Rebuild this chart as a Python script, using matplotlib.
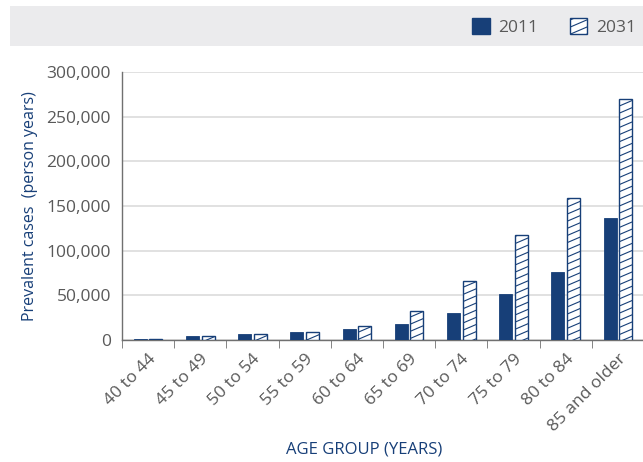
import matplotlib
matplotlib.use("Agg")
import matplotlib.pyplot as plt
import matplotlib.hatch as mhatch
from matplotlib.path import Path
from matplotlib.patches import Rectangle, Patch
from matplotlib.ticker import FuncFormatter, MultipleLocator
import numpy as np

categories = ["40 to 44", "45 to 49", "50 to 54", "55 to 59", "60 to 64",
              "65 to 69", "70 to 74", "75 to 79", "80 to 84", "85 and older"]
values_2011 = [1000, 4000, 6500, 8500, 12500, 18000, 30000, 51500, 76000, 136500]
values_2031 = [1500, 4000, 6500, 9500, 15500, 32000, 66000, 117000, 159000, 270000]

NAVY = "#173f78"
GREY_TXT = "#595959"


class ShallowNorthEast(mhatch.HatchPatternBase):
    """Shallow diagonal hatch (lines rising to the right, gentle slope)."""
    def __init__(self, hatch, density):
        self.n = 14
        self.m = 6
        self.num_lines = (self.n + self.m + 1) if '/' in hatch else 0
        self.num_vertices = self.num_lines * 2

    def set_vertices_and_codes(self, vertices, codes):
        ks = np.arange(-self.m, self.n + 1)
        vertices[0::2, 0] = 0.0
        vertices[0::2, 1] = ks / self.n
        vertices[1::2, 0] = 1.0
        vertices[1::2, 1] = (ks + self.m) / self.n
        codes[0::2] = Path.MOVETO
        codes[1::2] = Path.LINETO


mhatch._hatch_types = [ShallowNorthEast if t is mhatch.NorthEastHatch else t
                       for t in mhatch._hatch_types]

plt.rcParams['font.family'] = ['Open Sans', 'DejaVu Sans']
plt.rcParams['hatch.linewidth'] = 0.8
plt.rcParams['hatch.color'] = NAVY

W, H = 643, 462
fig = plt.figure(figsize=(W/100, H/100), dpi=100)

# header band
fig.patches.append(Rectangle((10/W, 1-46/H), 1-10/W, 40/H, transform=fig.transFigure,
                             facecolor="#ebebed", edgecolor="none", zorder=0))

ax = fig.add_axes([122/W, 1-340/H, 522/W, 268/H])
x = np.arange(len(categories))
bw = 0.25
gap = 0.05
ax.bar(x - (bw+gap)/2, values_2011, width=bw, color=NAVY, edgecolor=NAVY, linewidth=0.6, zorder=3)
ax.bar(x + (bw+gap)/2, values_2031, width=bw, color="white", edgecolor=NAVY, linewidth=1.0,
       hatch="/", zorder=3)

ax.set_xlim(-0.5, len(categories)-0.5)
ax.set_ylim(0, 300000)
ax.yaxis.set_major_locator(MultipleLocator(50000))
ax.yaxis.set_major_formatter(FuncFormatter(lambda v, p: f"{int(v):,}"))
ax.grid(axis="y", color="#dcdcdc", linewidth=1.2, zorder=0)
ax.set_axisbelow(True)

for s in ["top", "right"]:
    ax.spines[s].set_visible(False)
ax.spines["left"].set_color("#707070")
ax.spines["bottom"].set_color("#707070")
ax.spines["left"].set_linewidth(1.0)
ax.spines["bottom"].set_linewidth(1.0)

ax.set_xticks(x)
ax.set_xticklabels(categories, rotation=45, ha="right", rotation_mode="anchor",
                   fontsize=12.5, color=GREY_TXT)
ax.tick_params(axis="x", length=0, pad=8)
ax.set_xticks(np.arange(len(categories)+1) - 0.5, minor=True)
ax.tick_params(axis="x", which="minor", length=6, color="#707070", direction="out")
ax.tick_params(axis="y", length=0, labelsize=12.5, labelcolor=GREY_TXT, pad=8)

ax.set_ylabel("Prevalent cases  (person years)", color=NAVY, fontsize=11.5, labelpad=6)
fig.text(364/W, 1-450/H, "AGE GROUP (YEARS)", color=NAVY, fontsize=12,
         ha="center", va="center")

# legend in header
handles = [Patch(facecolor=NAVY, edgecolor=NAVY, label="2011"),
           Patch(facecolor="white", edgecolor=NAVY, hatch="/", label="2031")]
fig.legend(handles=handles, loc="center right", bbox_to_anchor=(1.013, 1-27/H),
           ncol=2, frameon=False, fontsize=12.5, handlelength=1.0, handleheight=1.0,
           columnspacing=1.8, handletextpad=0.5, labelcolor=GREY_TXT)

fig.savefig("out.png", dpi=100)
